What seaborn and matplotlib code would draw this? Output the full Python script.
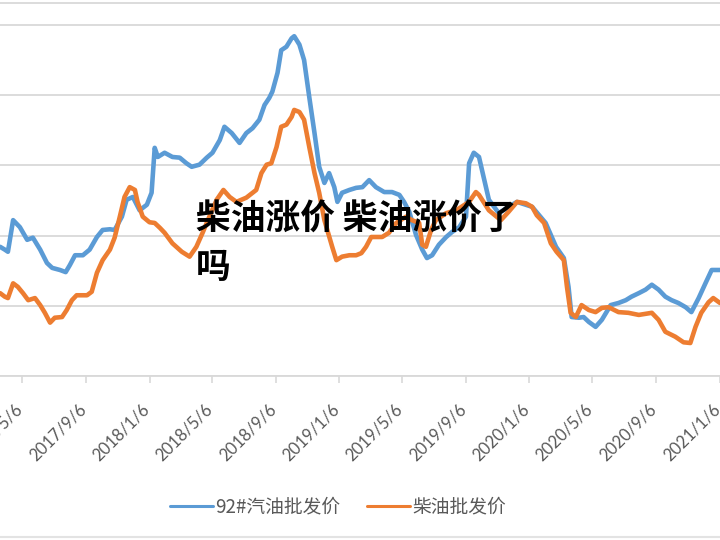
import matplotlib
matplotlib.use("Agg")
import matplotlib.pyplot as plt
import matplotlib.transforms as mtransforms
import seaborn as sns
import pandas as pd
from matplotlib.lines import Line2D

sns.set_theme(style="white")
plt.rcParams["font.family"] = ["Noto Sans CJK SC", "DejaVu Sans"]

series_names = ["92#汽油批发价", "柴油批发价"]
title_text = "柴油涨价 柴油涨价了\n吗"
tick_labels = ["2017/5/6", "2017/9/6", "2018/1/6", "2018/5/6", "2018/9/6", "2019/1/6",
               "2019/5/6", "2019/9/6", "2020/1/6", "2020/5/6", "2020/9/6", "2021/1/6"]

gas_dates = [
    "2017-03-25", "2017-04-03", "2017-04-09", "2017-04-19", "2017-05-02", "2017-05-16",
    "2017-05-27", "2017-06-10", "2017-06-23", "2017-07-03", "2017-07-18", "2017-07-29",
    "2017-08-06", "2017-08-16", "2017-08-31", "2017-09-13", "2017-09-27", "2017-10-08",
    "2017-10-22", "2017-10-31", "2017-11-14", "2017-11-23", "2017-12-05", "2017-12-18",
    "2018-01-01", "2018-01-10", "2018-01-16", "2018-01-22", "2018-02-04", "2018-02-19",
    "2018-03-05", "2018-03-18", "2018-03-28", "2018-04-12", "2018-04-26", "2018-05-07",
    "2018-05-21", "2018-05-30", "2018-06-13", "2018-06-28", "2018-07-11", "2018-07-23",
    "2018-08-05", "2018-08-15", "2018-08-24", "2018-08-30", "2018-09-09", "2018-09-16",
    "2018-09-26", "2018-10-06", "2018-10-11", "2018-10-21", "2018-10-30", "2018-11-09",
    "2018-11-19", "2018-11-28", "2018-12-08", "2018-12-17", "2018-12-27", "2019-01-02",
    "2019-01-11", "2019-01-25", "2019-02-07", "2019-02-19", "2019-03-04", "2019-03-17",
    "2019-04-02", "2019-04-17", "2019-05-01", "2019-05-10", "2019-05-20", "2019-06-02",
    "2019-06-14", "2019-06-23", "2019-07-03", "2019-07-16", "2019-07-30", "2019-08-10",
    "2019-08-24", "2019-09-06", "2019-09-12", "2019-09-21", "2019-10-01", "2019-10-10",
    "2019-10-20", "2019-11-08", "2019-11-27", "2019-12-13", "2020-01-11", "2020-02-06",
    "2020-02-26", "2020-03-12", "2020-03-21", "2020-03-27", "2020-04-10", "2020-04-19",
    "2020-04-29", "2020-05-12", "2020-05-24", "2020-06-10", "2020-06-25", "2020-07-09",
    "2020-07-20", "2020-08-03", "2020-08-16", "2020-08-28", "2020-09-10", "2020-09-23",
    "2020-10-05", "2020-10-18", "2020-11-01", "2020-11-12", "2020-11-26", "2020-12-09",
    "2020-12-21", "2021-01-06",
]
gas_prices = [
    5840, 5800, 5770, 6220, 6120, 5940,
    5970, 5800, 5610, 5540, 5510, 5480,
    5580, 5720, 5720, 5800, 5980, 6080,
    6090, 6080, 6270, 6510, 6550, 6360,
    6440, 6610, 7250, 7120, 7180, 7120,
    7110, 7030, 6980, 7010, 7110, 7180,
    7360, 7550, 7460, 7320, 7460, 7530,
    7650, 7860, 7960, 8050, 8320, 8640,
    8690, 8810, 8840, 8720, 8500, 7970,
    7460, 6980, 6750, 6890, 6690, 6480,
    6610, 6650, 6680, 6690, 6790, 6690,
    6620, 6620, 6580, 6480, 6340, 6010,
    5800, 5680, 5720, 5870, 5980, 6050,
    6120, 6270, 7030, 7180, 7120, 6830,
    6510, 6320, 6410, 6480, 6410, 6180,
    5840, 5680, 5270, 4840, 4830, 4840,
    4770, 4700, 4800, 5010, 5040, 5080,
    5130, 5180, 5230, 5300, 5230, 5130,
    5080, 5040, 4980, 4910, 5110, 5320,
    5510, 5510,
]

diesel_dates = [
    "2017-03-25", "2017-04-03", "2017-04-09", "2017-04-19", "2017-04-28", "2017-05-08",
    "2017-05-18", "2017-05-31", "2017-06-10", "2017-06-19", "2017-06-29", "2017-07-08",
    "2017-07-22", "2017-07-31", "2017-08-10", "2017-08-19", "2017-09-08", "2017-09-17",
    "2017-09-27", "2017-10-08", "2017-10-22", "2017-10-31", "2017-11-10", "2017-11-19",
    "2017-11-29", "2017-12-09", "2017-12-14", "2017-12-24", "2018-01-06", "2018-01-16",
    "2018-01-26", "2018-02-04", "2018-02-19", "2018-03-09", "2018-03-24", "2018-04-06",
    "2018-04-18", "2018-05-01", "2018-05-15", "2018-05-28", "2018-06-09", "2018-06-22",
    "2018-07-11", "2018-07-30", "2018-08-09", "2018-08-19", "2018-08-28", "2018-09-07",
    "2018-09-16", "2018-09-26", "2018-10-06", "2018-10-11", "2018-10-21", "2018-10-30",
    "2018-11-09", "2018-11-19", "2018-11-28", "2018-12-08", "2018-12-23", "2018-12-31",
    "2019-01-11", "2019-01-25", "2019-02-07", "2019-02-17", "2019-02-26", "2019-03-08",
    "2019-03-17", "2019-03-29", "2019-04-11", "2019-04-25", "2019-05-14", "2019-05-25",
    "2019-06-08", "2019-06-14", "2019-06-21", "2019-07-01", "2019-07-10", "2019-07-30",
    "2019-08-18", "2019-09-12", "2019-09-25", "2019-10-01", "2019-10-20", "2019-11-12",
    "2019-11-27", "2019-12-13", "2019-12-30", "2020-01-11", "2020-01-20", "2020-02-03",
    "2020-02-16", "2020-02-27", "2020-03-12", "2020-03-18", "2020-03-25", "2020-04-04",
    "2020-04-15", "2020-04-29", "2020-05-12", "2020-05-24", "2020-06-06", "2020-06-25",
    "2020-07-14", "2020-08-03", "2020-08-28", "2020-09-10", "2020-09-23", "2020-10-12",
    "2020-10-28", "2020-11-10", "2020-11-20", "2020-12-01", "2020-12-15", "2020-12-24",
    "2021-01-06",
]
diesel_prices = [
    5180, 5130, 5110, 5320, 5270, 5180,
    5080, 5110, 5010, 4900, 4760, 4830,
    4840, 4940, 5080, 5150, 5150, 5200,
    5470, 5650, 5800, 5970, 6270, 6550,
    6690, 6650, 6480, 6270, 6190, 6180,
    6110, 6040, 5890, 5770, 5700, 5840,
    6040, 6270, 6510, 6650, 6550, 6480,
    6540, 6650, 6890, 7010, 7030, 7260,
    7550, 7580, 7690, 7790, 7760, 7650,
    7260, 6890, 6610, 6220, 5840, 5650,
    5700, 5720, 5720, 5750, 5840, 5980,
    5980, 5980, 6040, 6180, 6270, 6220,
    6180, 5870, 5840, 6080, 6220, 6320,
    6360, 6480, 6620, 6580, 6360, 6220,
    6340, 6480, 6460, 6410, 6290, 6180,
    5890, 5770, 5650, 5270, 4900, 4840,
    5010, 4940, 4910, 4970, 4980, 4910,
    4900, 4870, 4900, 4800, 4630, 4560,
    4480, 4470, 4700, 4900, 5050, 5110,
    5040,
]

BLUE = "#5B9BD5"
ORANGE = "#ED7D31"
GRID = "#d9d9d9"
TEXT = "#595959"

df = pd.concat([
    pd.DataFrame({"date": pd.to_datetime(gas_dates), "price": gas_prices, "series": series_names[0]}),
    pd.DataFrame({"date": pd.to_datetime(diesel_dates), "price": diesel_prices, "series": series_names[1]}),
], ignore_index=True)

fig = plt.figure(figsize=(7.2, 5.4), dpi=100)
fig.patch.set_facecolor("white")
ax = fig.add_axes([0, 1 - 376 / 540, 1, 373 / 540])

sns.lineplot(data=df, x="date", y="price", hue="series", hue_order=series_names,
             palette=[BLUE, ORANGE], linewidth=3.3, estimator=None, sort=True,
             legend=False, ax=ax)

ax.set_xlim(pd.Timestamp("2017-03-24 19:00"), pd.Timestamp("2021-01-02 21:00"))
ax.set_ylim(4000, 9313)
ax.set_yticks(range(4000, 9001, 1000))
ax.set_yticklabels([])
ax.tick_params(axis="y", length=0)
ax.grid(axis="y", color=GRID, linewidth=1.3)
ax.grid(axis="x", visible=False)
ax.set_axisbelow(True)
for s in ("left", "right"):
    ax.spines[s].set_visible(False)
for s in ("top", "bottom"):
    ax.spines[s].set_color(GRID)
    ax.spines[s].set_linewidth(1.3)

tick_dates = pd.to_datetime(tick_labels, format="%Y/%m/%d")
ax.set_xticks(tick_dates)
ax.set_xticklabels(tick_labels, rotation=45, ha="right", fontsize=12, color=TEXT, family="Lato")
ax.tick_params(axis="x", bottom=True, length=5, width=1.2, color=GRID, pad=13, direction="out")
shift = mtransforms.ScaledTranslation(3 / 100, 0, fig.dpi_scale_trans)
for lab in ax.get_xticklabels():
    lab.set_transform(lab.get_transform() + shift)
ax.set_xlabel("")
ax.set_ylabel("")

handles = [Line2D([], [], color=BLUE, lw=2.2), Line2D([], [], color=ORANGE, lw=2.2)]
fig.legend(handles, series_names, loc="center", bbox_to_anchor=(338 / 720, 1 - 507 / 540),
           ncol=2, frameon=False, fontsize=13.5, handlelength=2.3, handletextpad=0.15,
           columnspacing=1.4, labelcolor=TEXT)

fig.text(196 / 720, 1 - 202 / 540, title_text, fontsize=25, fontweight="heavy",
         color="black", va="top", ha="left", linespacing=1.45)

fig.add_artist(Line2D([0, 1], [1 - 537 / 540] * 2, color="#e3e3e3", lw=1.5,
                      transform=fig.transFigure))

fig.savefig("out.png", dpi=100, facecolor="white")
